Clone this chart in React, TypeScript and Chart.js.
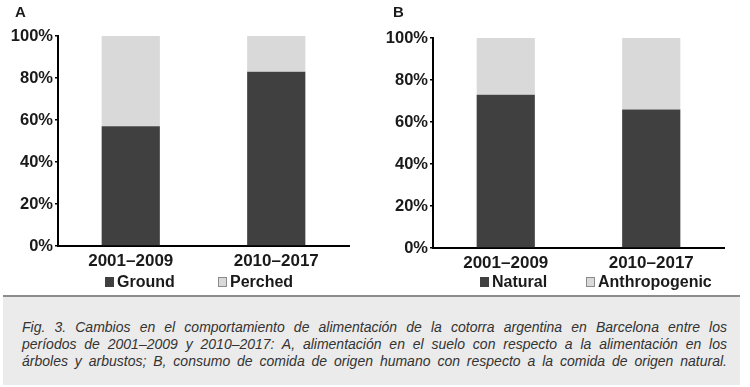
import React, { useEffect, useRef } from "react";
import { Chart, registerables } from "chart.js";

Chart.register(...registerables);

const categories = ["2001–2009", "2010–2017"];
const groundValues = [57, 83];
const perchedValues = [43, 17];
const naturalValues = [73, 66];
const anthropogenicValues = [27, 34];
const yTickValues = [0, 20, 40, 60, 80, 100];

const FONT = "'Liberation Sans', Arial, Helvetica, sans-serif";
const DARK = "#404040";
const LIGHT = "#d9d9d9";

type PanelProps = {
  letter: string;
  names: [string, string];
  a: number[];
  b: number[];
  legendX: [number, number];
  padTop: number;
  left: number;
};

function Panel({ letter, names, a, b, legendX, padTop, left }: PanelProps) {
  const ref = useRef<HTMLCanvasElement | null>(null);
  useEffect(() => {
    if (!ref.current) return;
    const canvasH = 295;
    const bottomY = padTop + 210;
    const overlay = {
      id: "overlay",
      afterDraw(chart: any) {
        const ctx = chart.ctx;
        ctx.save();
        ctx.fillStyle = "#1a1a1a";
        ctx.font = `bold 15px ${FONT}`;
        ctx.textBaseline = "middle";
        ctx.textAlign = "left";
        ctx.fillText(letter, letter === "A" ? 15 : 18, 13);
        chart.data.datasets.forEach((ds: any, i: number) => {
          const x = legendX[i];
          ctx.fillStyle = ds.backgroundColor;
          ctx.fillRect(x, 277, 9, 10);
          if (i === 1) {
            ctx.strokeStyle = "#8a8a8a";
            ctx.lineWidth = 1;
            ctx.strokeRect(x + 0.5, 277.5, 8, 9);
          }
          ctx.fillStyle = "#1a1a1a";
          ctx.font = `bold 16px ${FONT}`;
          ctx.textBaseline = "middle";
          ctx.fillText(ds.label, x + 12, 283);
        });
        ctx.restore();
      },
    };
    const chart = new Chart(ref.current, {
      type: "bar",
      data: {
        labels: categories,
        datasets: [
          {
            label: names[0],
            data: a,
            backgroundColor: DARK,
            barPercentage: 0.4,
            categoryPercentage: 1,
          },
          {
            label: names[1],
            data: b,
            backgroundColor: LIGHT,
            barPercentage: 0.4,
            categoryPercentage: 1,
          },
        ],
      },
      options: {
        animation: false,
        responsive: false,
        maintainAspectRatio: false,
        layout: { padding: { left: 0, right: 26, top: padTop, bottom: 0 } },
        plugins: { legend: { display: false }, tooltip: { enabled: false } },
        scales: {
          x: {
            stacked: true,
            grid: { display: false, drawTicks: false, tickLength: 0 },
            border: { display: true, color: "#000", width: 2 },
            ticks: {
              font: { family: FONT, size: 17, weight: "bold" },
              color: "#1a1a1a",
              padding: 5,
            },
            afterFit(s: any) {
              s.height = canvasH - bottomY;
            },
          },
          y: {
            stacked: true,
            min: 0,
            max: 100,
            afterBuildTicks(s: any) {
              s.ticks = yTickValues.map((v) => ({ value: v }));
            },
            ticks: {
              callback: (v: any) => v + "%",
              font: { family: FONT, size: 16.5, weight: "bold" },
              color: "#1a1a1a",
              padding: 2,
            },
            grid: {
              drawOnChartArea: false,
              tickLength: 3,
              color: "#000",
              lineWidth: 1.5,
            },
            border: { color: "#000", width: 2 },
            afterFit(s: any) {
              s.width = 58;
            },
          },
        },
      },
      plugins: [overlay],
    } as any);
    return () => chart.destroy();
  }, []);
  return (
    <canvas
      ref={ref}
      width={375}
      height={295}
      style={{ position: "absolute", left, top: 0, width: 375, height: 295 }}
    />
  );
}

const captionLines = [
  "Fig. 3. Cambios en el comportamiento de alimentación de la cotorra argentina en Barcelona entre los",
  "períodos de 2001–2009 y 2010–2017: A, alimentación en el suelo con respecto a la alimentación en los",
  "árboles y arbustos; B, consumo de comida de origen humano con respecto a la comida de origen natural.",
];

export default function App() {
  return (
    <div
      style={{
        position: "absolute",
        left: 0,
        top: 0,
        width: 750,
        height: 387,
        background: "#fff",
        overflow: "hidden",
      }}
    >
      <Panel
        letter="A"
        names={["Ground", "Perched"]}
        a={groundValues}
        b={perchedValues}
        legendX={[105, 218]}
        padTop={36}
        left={0}
      />
      <Panel
        letter="B"
        names={["Natural", "Anthropogenic"]}
        a={naturalValues}
        b={anthropogenicValues}
        legendX={[105, 211]}
        padTop={38}
        left={375}
      />
      <div
        style={{
          position: "absolute",
          left: 3,
          top: 295,
          width: 737,
          height: 90,
          background: "#ebebeb",
          borderTop: "2px solid #8c8c8c",
          boxSizing: "border-box",
          padding: "22px 13px 0 19px",
          fontFamily: FONT,
          fontStyle: "italic",
          fontSize: 14,
          lineHeight: "17px",
          color: "#333",
        }}
      >
        {captionLines.map((l, i) => (
          <div key={i} style={{ textAlign: "justify", textAlignLast: "justify", whiteSpace: "nowrap" }}>
            {l}
          </div>
        ))}
      </div>
    </div>
  );
}
